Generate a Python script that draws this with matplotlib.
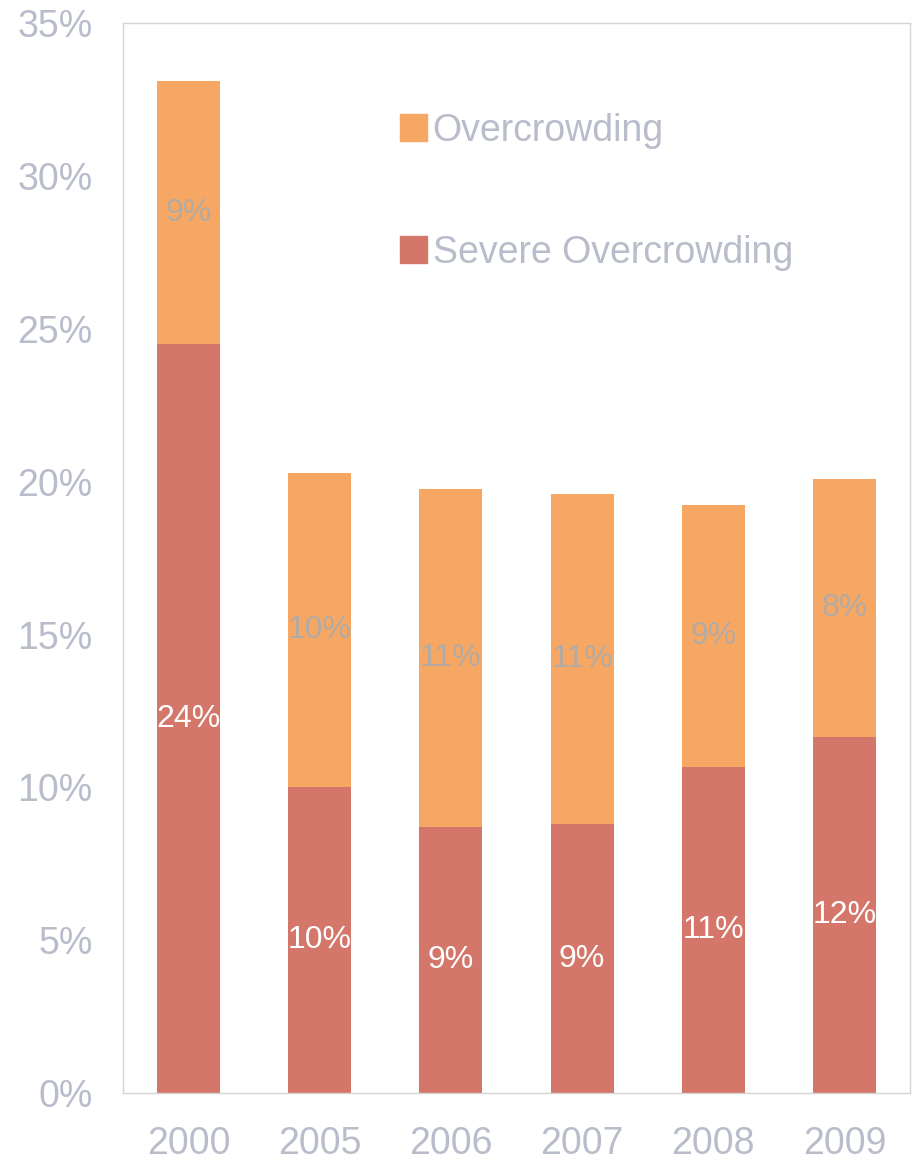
import numpy as np
import matplotlib
matplotlib.use('Agg')
import matplotlib.pyplot as plt
from matplotlib.patches import Patch

plt.rcParams['font.family'] = ['Liberation Sans', 'DejaVu Sans']

years = ['2000', '2005', '2006', '2007', '2008', '2009']
severe = [24.5, 10.0, 8.7, 8.8, 10.65, 11.65]
overcrowd = [8.6, 10.3, 11.05, 10.8, 8.6, 8.45]
severe_labels = ['24%', '10%', '9%', '9%', '11%', '12%']
over_labels = ['9%', '10%', '11%', '11%', '9%', '8%']

c_over = '#F6A764'
c_sev = '#D4766A'
c_text = '#B9BDCB'
c_frame = '#D5D5D5'

fig = plt.figure(figsize=(9.13, 11.64), dpi=100)
ax = fig.add_axes([0.1347, 0.061, 0.862, 0.919])

x = np.arange(len(years))
w = 0.48
ax.bar(x, severe, w, color=c_sev, label='Severe Overcrowding')
ax.bar(x, overcrowd, w, bottom=severe, color=c_over, label='Overcrowding')

for i in range(len(years)):
    ax.text(x[i], severe[i] / 2, severe_labels[i], ha='center', va='center',
            color='white', fontsize=23)
    ax.text(x[i], severe[i] + overcrowd[i] / 2, over_labels[i], ha='center',
            va='center', color='#B3ABA3', fontsize=23)

ax.set_xlim(-0.5, 5.5)
ax.set_ylim(0, 35)
ax.set_yticks(np.arange(0, 36, 5))
ax.set_yticklabels([f'{v}%' for v in range(0, 36, 5)])
ax.set_xticks(x)
ax.set_xticklabels(years)
ax.tick_params(axis='both', length=0, labelsize=27, colors=c_text)
ax.tick_params(axis='y', pad=22)
ax.tick_params(axis='x', pad=24)
for s in ax.spines.values():
    s.set_color(c_frame)
    s.set_linewidth(1)

handles = [Patch(color=c_over), Patch(color=c_sev)]
leg = ax.legend(handles, ['Overcrowding', 'Severe Overcrowding'],
                loc='center left', bbox_to_anchor=(0.352, 0.8425), frameon=False,
                fontsize=27, labelspacing=2.3, handlelength=0.72, handleheight=0.72,
                handletextpad=0.15, borderpad=0, borderaxespad=0, labelcolor=c_text)

fig.savefig('out.png', dpi=100)
